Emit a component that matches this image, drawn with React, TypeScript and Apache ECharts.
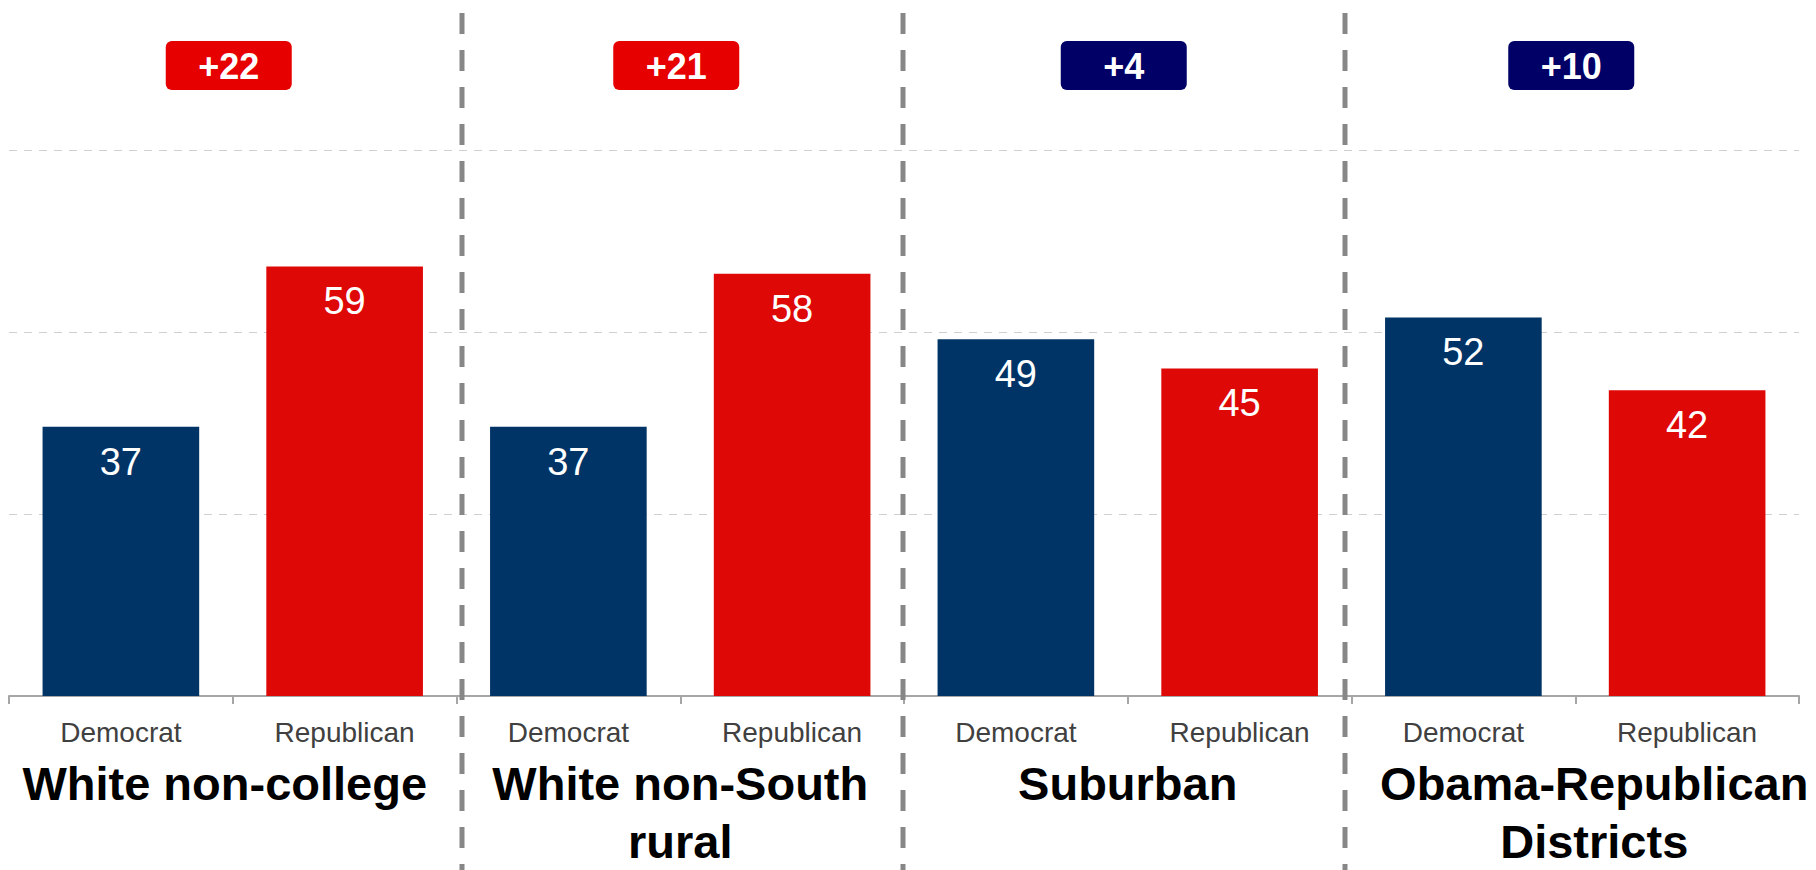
import React, { useEffect, useRef } from "react";
import * as echarts from "echarts";

const groups = ["White non-college", "White non-South\nrural", "Suburban", "Obama-Republican\nDistricts"];
const parties = ["Democrat", "Republican"];
const demValues = [37, 37, 49, 52];
const repValues = [59, 58, 45, 42];
const marginValues = [22, 21, 4, 10];
const marginLeader = ["Republican", "Republican", "Democrat", "Democrat"];
const yTicks = [0, 25, 50, 75];

const DEM = "#003366";
const REP = "#DE0806";
const BADGE_REP = "#E60000";
const BADGE_DEM = "#000066";
const FONT = '"Liberation Sans", Arial, Helvetica, sans-serif';

export default function App() {
  const ref = useRef<HTMLDivElement>(null);

  useEffect(() => {
    if (!ref.current) return;
    const chart = echarts.init(ref.current, null, { renderer: "svg" });

    const categories = groups.flatMap(() => parties);
    const values = groups.flatMap((_, i) => [demValues[i], repValues[i]]);
    const groupPadding = [[0, 16, 0, 0], [0, 0, 0, 0], [0, 0, 0, 0], [0, 0, 0, 38]];

    chart.setOption({
      animation: false,
      grid: { left: 9, right: 17, top: 150, bottom: 165, containLabel: false },
      xAxis: [
        {
          type: "category",
          data: categories,
          position: "bottom",
          axisLine: { show: true, lineStyle: { color: "#a6a6a6", width: 2 } },
          axisTick: { show: true, length: 8, interval: 0, lineStyle: { color: "#a6a6a6", width: 2 } },
          axisLabel: { interval: 0, fontSize: 28, color: "#404040", fontFamily: FONT, margin: 22 },
          splitLine: { show: false },
        },
        {
          type: "category",
          data: groups.map((g, i) => ({ value: g, textStyle: { padding: groupPadding[i] } })),
          position: "bottom",
          axisLine: { show: false },
          axisTick: { show: false },
          axisLabel: {
            interval: 0,
            fontSize: 47,
            fontWeight: "bold",
            color: "#000000",
            fontFamily: FONT,
            lineHeight: 58,
            margin: 58,
          },
          splitLine: { show: false },
        },
      ],
      yAxis: {
        type: "value",
        min: yTicks[0],
        max: yTicks[yTicks.length - 1],
        interval: yTicks[1] - yTicks[0],
        axisLabel: { show: false },
        axisLine: { show: false },
        axisTick: { show: false },
        splitLine: { show: true, lineStyle: { color: "#d0d0d0", width: 1, type: [8, 7] } },
      },
      series: [
        {
          type: "bar",
          xAxisIndex: 0,
          barWidth: "70%",
          data: values.map((v, i) => ({ value: v, itemStyle: { color: i % 2 === 0 ? DEM : REP } })),
          label: {
            show: true,
            position: "insideTop",
            distance: 16,
            color: "#ffffff",
            fontSize: 38,
            fontFamily: FONT,
          },
        },
      ],
    });

    const separatorsX = [462, 903, 1345];
    const graphics: any[] = [];
    separatorsX.forEach((x) => {
      graphics.push({
        type: "line",
        silent: true,
        z: 100,
        shape: { x1: x, y1: 13, x2: x, y2: 870 },
        style: { stroke: "#878787", lineWidth: 5, lineDash: [21, 16] },
      });
    });
    groups.forEach((_, i) => {
      const cx = (chart.convertToPixel({ xAxisIndex: 1 } as any, i) as number) - 4;
      const color = marginLeader[i] === "Republican" ? BADGE_REP : BADGE_DEM;
      graphics.push({
        type: "rect",
        silent: true,
        z: 100,
        shape: { x: cx - 63, y: 41, width: 126, height: 49, r: 6 },
        style: { fill: color },
      });
      graphics.push({
        type: "text",
        silent: true,
        z: 101,
        style: {
          text: "+" + marginValues[i],
          x: cx,
          y: 66,
          align: "center",
          verticalAlign: "middle",
          fill: "#ffffff",
          fontSize: 36,
          fontWeight: "bold",
          fontFamily: FONT,
        },
      });
    });
    chart.setOption({ graphic: graphics });

    return () => chart.dispose();
  }, []);

  return (
    <div
      ref={ref}
      style={{ position: "fixed", left: 0, top: 0, width: 1816, height: 870, background: "#ffffff" }}
    />
  );
}
